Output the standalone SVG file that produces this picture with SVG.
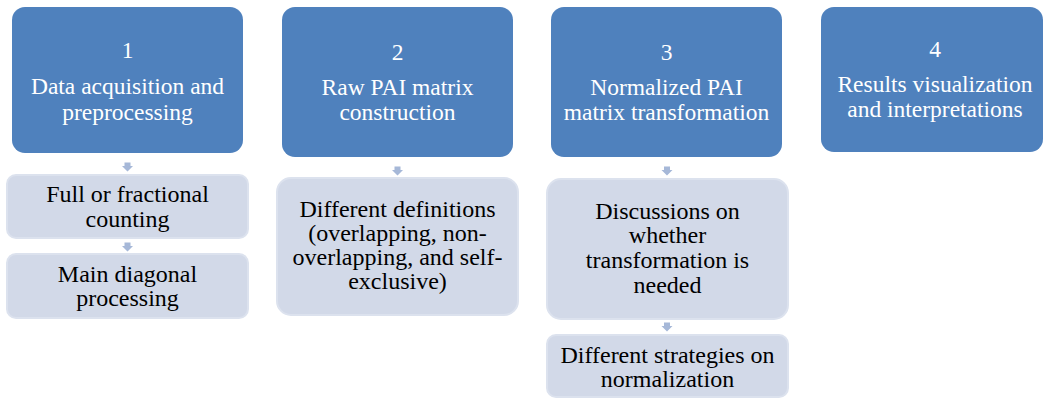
<svg xmlns="http://www.w3.org/2000/svg" width="1044" height="398" viewBox="0 0 1044 398">
<style>
.main{fill:#4F81BD;}
.sub{fill:#D2D9E8;stroke:#DCE2EE;stroke-width:2;}
.arr{fill:#A6B8D8;}
text{font-family:"Liberation Serif","Times New Roman",serif;text-anchor:middle;}
.mt{fill:#FFFFFF;font-size:23.5px;}
.st{fill:#000000;font-size:24px;}
</style>
<rect width="1044" height="398" fill="#FFFFFF"/>
<g id="step1" font-family="Liberation Serif">
<rect class="main" x="12" y="7" width="231" height="146" rx="13"/>
<text class="mt" x="127.5" y="58">1</text>
<text class="mt" x="127.5" y="93.5">Data acquisition and</text>
<text class="mt" x="127.5" y="119.5">preprocessing</text>
</g>
<g id="step2" font-family="Liberation Serif">
<rect class="main" x="282" y="7" width="231" height="150" rx="13"/>
<text class="mt" x="397.5" y="60">2</text>
<text class="mt" x="397.5" y="95">Raw PAI matrix</text>
<text class="mt" x="397.5" y="120">construction</text>
</g>
<g id="step3" font-family="Liberation Serif">
<rect class="main" x="551" y="7" width="231" height="150" rx="13"/>
<text class="mt" x="666.5" y="60">3</text>
<text class="mt" x="666.5" y="95">Normalized PAI</text>
<text class="mt" x="666.5" y="120">matrix transformation</text>
</g>
<g id="step4" font-family="Liberation Serif">
<rect class="main" x="821" y="7" width="222" height="145" rx="13"/>
<text class="mt" x="935" y="57">4</text>
<text class="mt" x="935" y="92">Results visualization</text>
<text class="mt" x="935" y="117">and interpretations</text>
</g>
<g id="sub1a" font-family="Liberation Serif">
<rect class="sub" x="7" y="175" width="241" height="63" rx="9"/>
<text class="st" x="127.5" y="202">Full or fractional</text>
<text class="st" x="127.5" y="227">counting</text>
</g>
<g id="sub1b" font-family="Liberation Serif">
<rect class="sub" x="7" y="254" width="241" height="64" rx="9"/>
<text class="st" x="127.5" y="282">Main diagonal</text>
<text class="st" x="127.5" y="306">processing</text>
</g>
<g id="sub2" font-family="Liberation Serif">
<rect class="sub" x="277" y="178" width="241" height="137" rx="14"/>
<text class="st" x="397.5" y="216.5">Different definitions</text>
<text class="st" x="397.5" y="240.5">(overlapping, non-</text>
<text class="st" x="397.5" y="264.5">overlapping, and self-</text>
<text class="st" x="397.5" y="288.5">exclusive)</text>
</g>
<g id="sub3a" font-family="Liberation Serif">
<rect class="sub" x="547" y="179" width="241" height="140" rx="14"/>
<text class="st" x="667.5" y="218.5">Discussions on</text>
<text class="st" x="667.5" y="243.3">whether</text>
<text class="st" x="667.5" y="268">transformation is</text>
<text class="st" x="667.5" y="292.7">needed</text>
</g>
<g id="sub3b" font-family="Liberation Serif">
<rect class="sub" x="547" y="335" width="241" height="62" rx="9"/>
<text class="st" x="667.5" y="363.3">Different strategies on</text>
<text class="st" x="667.5" y="387">normalization</text>
</g>
<g id="connectors">
<path class="arr" d="M124.5 162.5h6v3.5h2.5l-5.5 5.5l-5.5-5.5h2.5z"/>
<path class="arr" d="M124.5 242.5h6v3.5h2.5l-5.5 5.5l-5.5-5.5h2.5z"/>
<path class="arr" d="M394.5 166.5h6v3.5h2.5l-5.5 5.5l-5.5-5.5h2.5z"/>
<path class="arr" d="M664 166.5h6v3.5h2.5l-5.5 5.5l-5.5-5.5h2.5z"/>
<path class="arr" d="M664 322.5h6v3.5h2.5l-5.5 5.5l-5.5-5.5h2.5z"/>
</g>
</svg>
